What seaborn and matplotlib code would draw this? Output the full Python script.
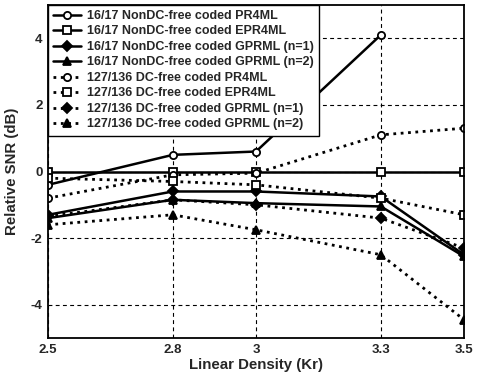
import matplotlib
matplotlib.use("Agg")
import matplotlib.pyplot as plt
import seaborn as sns
import numpy as np

sns.set_style("white")
plt.rcParams['font.family'] = ['Liberation Sans', 'DejaVu Sans']
plt.rcParams['font.weight'] = 'bold'

density = [2.5, 2.8, 3.0, 3.3, 3.5]
xtick_labels = ["2.5", "2.8", "3", "3.3", "3.5"]
yticks = [-4, -2, 0, 2, 4]

labels = [
    "16/17 NonDC-free coded PR4ML",
    "16/17 NonDC-free coded EPR4ML",
    "16/17 NonDC-free coded GPRML (n=1)",
    "16/17 NonDC-free coded GPRML (n=2)",
    "127/136 DC-free coded PR4ML",
    "127/136 DC-free coded EPR4ML",
    "127/136 DC-free coded GPRML (n=1)",
    "127/136 DC-free coded GPRML (n=2)",
]

nondc_pr4ml = [-0.4, 0.5, 0.6, 4.1, np.nan]
nondc_epr4ml = [0.0, 0.0, 0.0, 0.0, 0.0]
nondc_gprml1 = [-1.3, -0.6, -0.6, -0.75, -2.5]
nondc_gprml2 = [-1.4, -0.85, -0.95, -1.05, -2.55]
dc_pr4ml = [-0.8, -0.1, -0.05, 1.1, 1.3]
dc_epr4ml = [-0.2, -0.3, -0.4, -0.8, -1.3]
dc_gprml1 = [-1.35, -0.85, -1.0, -1.4, -2.3]
dc_gprml2 = [-1.6, -1.3, -1.75, -2.5, -4.45]

series = [nondc_pr4ml, nondc_epr4ml, nondc_gprml1, nondc_gprml2,
          dc_pr4ml, dc_epr4ml, dc_gprml1, dc_gprml2]
markers = ['o', 's', 'D', '^', 'o', 's', 'D', '^']
filled = [False, False, True, True, False, False, True, True]
styles = ['-'] * 4 + [':'] * 4

fig = plt.figure(figsize=(4.78, 3.8), dpi=100)
ax = fig.add_axes([48/478, 1 - 338/380, (464-48)/478, (338-5)/380])

for vals, lab, m, f, ls in zip(series, labels, markers, filled, styles):
    xs = [d for d, v in zip(density, vals) if not np.isnan(v)]
    ys = [v for v in vals if not np.isnan(v)]
    ms = 4.8 if m == 'D' else 5.2
    sns.lineplot(x=xs, y=ys, ax=ax, color='black', linestyle=ls,
                 linewidth=1.8 if ls == '-' else 2.0,
                 marker=m, markersize=ms,
                 markerfacecolor='black' if f else 'white',
                 markeredgecolor='black', markeredgewidth=1.3,
                 label=lab, estimator=None)

ax.set_xlim(2.5, 3.5)
ax.set_ylim(-5, 5)
ax.set_xticks(density)
ax.set_xticklabels(xtick_labels)
ax.set_yticks(yticks)
ax.set_yticklabels([str(t) for t in yticks])
ax.grid(True, color='black', linestyle=(0, (3.5, 3)), linewidth=0.8)
ax.tick_params(axis='both', length=0, labelsize=9.5, pad=4)
for lbl in ax.get_xticklabels() + ax.get_yticklabels():
    lbl.set_fontweight('bold')
for s in ax.spines.values():
    s.set_color('black')
    s.set_linewidth(1.3)

ax.set_xlabel("Linear Density (Kr)", fontsize=10.8, fontweight='bold', labelpad=2)
ax.set_ylabel("Relative SNR (dB)", fontsize=10.8, fontweight='bold', labelpad=8)

leg = ax.legend(loc='upper left', borderaxespad=0, fontsize=9.0,
                frameon=True, fancybox=False, handlelength=2.2,
                handletextpad=0.5, labelspacing=0.28, borderpad=0.4)
leg.get_frame().set_edgecolor('black')
leg.get_frame().set_linewidth(1.0)
leg.get_frame().set_alpha(1)
for t in leg.get_texts():
    t.set_fontweight('bold')

fig.savefig("out.png", dpi=100)
